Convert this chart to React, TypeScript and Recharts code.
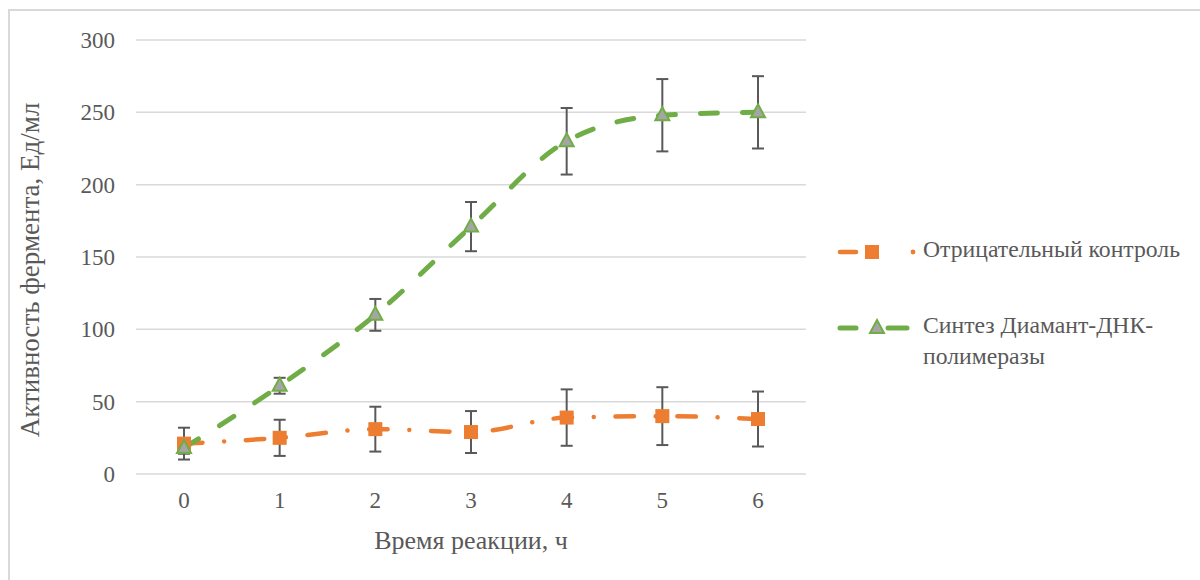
import { LineChart, Line, XAxis, YAxis, CartesianGrid, Legend, ErrorBar } from 'recharts';

const hours = [0, 1, 2, 3, 4, 5, 6];
const control = [21, 25, 31, 29, 39, 40, 38];
const controlErr = [11, 12.5, 15.5, 14.5, 19.5, 20, 19];
const synthesis = [18, 61, 110, 171, 230, 248, 250];
const synthesisErr = [4, 5.5, 11, 17, 23, 25, 25];
const yTicks = [0, 50, 100, 150, 200, 250, 300];

const controlName = 'Отрицательный контроль';
const synthesisName = 'Синтез Диамант-ДНК-полимеразы';

const ORANGE = '#ED7D31';
const GREEN = '#70AD47';
const TEXT = '#595959';
const FONT = '"Liberation Serif", "Times New Roman", serif';

const data = hours.map((h, i) => ({
  h,
  control: control[i],
  controlErr: controlErr[i],
  synthesis: synthesis[i],
  synthesisErr: synthesisErr[i],
}));

const SquareDot = (props: any) => {
  const { cx, cy } = props;
  if (cx == null || cy == null) return null;
  return <rect x={cx - 7} y={cy - 7} width={14} height={14} fill={ORANGE} />;
};

const TriangleDot = (props: any) => {
  const { cx, cy } = props;
  if (cx == null || cy == null) return null;
  const p = `${cx},${cy - 8} ${cx + 7},${cy + 5} ${cx - 7},${cy + 5}`;
  return <polygon points={p} fill="#A5A5A5" stroke={GREEN} strokeWidth={2} />;
};

const LegendIcon = ({ kind }: { kind: string }) => {
  if (kind === 'control') {
    return (
      <svg width={87} height={20}>
        <line x1={4} y1={10} x2={20} y2={10} stroke={ORANGE} strokeWidth={4.5} strokeLinecap="round" />
        <rect x={29} y={3} width={14} height={14} fill={ORANGE} />
        <circle cx={77} cy={10} r={2.4} fill={ORANGE} />
      </svg>
    );
  }
  return (
    <svg width={87} height={20}>
      <line x1={4} y1={10} x2={20} y2={10} stroke={GREEN} strokeWidth={5} strokeLinecap="round" />
      <line x1={52} y1={10} x2={71} y2={10} stroke={GREEN} strokeWidth={5} strokeLinecap="round" />
      <polygon points="41,2 48,15 34,15" fill="#A5A5A5" stroke={GREEN} strokeWidth={2} />
    </svg>
  );
};

const renderLegend = (props: any) => {
  const { payload } = props;
  return (
    <div style={{ fontFamily: FONT, fontSize: 23.7, color: TEXT }}>
      {(payload || []).map((entry: any) => (
        <div
          key={entry.dataKey}
          style={{ display: 'flex', alignItems: 'flex-start', marginBottom: 40, lineHeight: '31px' }}
        >
          <div style={{ paddingTop: 5 }}>
            <LegendIcon kind={entry.dataKey} />
          </div>
          <div style={{ width: 272 }}>{entry.value}</div>
        </div>
      ))}
    </div>
  );
};

const YLabel = (props: any) => {
  const { viewBox } = props;
  const x = viewBox.x + 30;
  const y = viewBox.y + viewBox.height / 2 + 13;
  return (
    <text
      x={x}
      y={y}
      transform={`rotate(-90, ${x}, ${y})`}
      textAnchor="middle"
      dominantBaseline="central"
      fill={TEXT}
      fontSize={27}
      fontFamily={FONT}
    >
      Активность фермента, Ед/мл
    </text>
  );
};

export default function App() {
  return (
    <div style={{ position: 'absolute', left: 0, top: 0, width: 1200, height: 580, background: '#fff', fontFamily: FONT }}>
      <div
        style={{
          position: 'absolute',
          left: 8,
          top: 9,
          width: 1200,
          height: 600,
          borderLeft: '2px solid #D9D9D9',
          borderTop: '2px solid #D9D9D9',
        }}
      />
      <div style={{ position: 'absolute', left: 0, top: 0 }}>
        <LineChart
          width={1200}
          height={580}
          data={data}
          margin={{ top: 40, right: 394, bottom: 0, left: 0 }}
        >
          <CartesianGrid vertical={false} stroke="#D9D9D9" strokeWidth={1.5} />
          <XAxis
            dataKey="h"
            type="category"
            height={106}
            padding={{ left: 48, right: 48 }}
            axisLine={false}
            tickLine={false}
            tickSize={0}
            tickMargin={18}
            tick={{ fill: TEXT, fontSize: 23, fontFamily: FONT }}
            label={{
              value: 'Время реакции, ч',
              position: 'insideBottom',
              offset: 31,
              fill: TEXT,
              fontSize: 26,
              fontFamily: FONT,
            }}
          />
          <YAxis
            width={136}
            domain={[0, 300]}
            ticks={yTicks}
            axisLine={false}
            tickLine={false}
            tickSize={0}
            tickMargin={21}
            tick={{ fill: TEXT, fontSize: 23, fontFamily: FONT }}
            label={<YLabel />}
          />
          <Legend
            layout="horizontal"
            verticalAlign="middle"
            align="center"
            content={renderLegend}
            wrapperStyle={{ position: 'absolute', left: 836, top: 234, width: 364 }}
          />
          <Line
            dataKey="control"
            name={controlName}
            type="monotone"
            stroke={ORANGE}
            strokeWidth={4.5}
            strokeLinecap="round"
            strokeDasharray="18.5 21.7 0.01 21.7"
            dot={<SquareDot />}
            activeDot={false}
            isAnimationActive={false}
          >
            <ErrorBar dataKey="controlErr" width={6} stroke={TEXT} strokeWidth={2} isAnimationActive={false} />
          </Line>
          <Line
            dataKey="synthesis"
            name={synthesisName}
            type="monotone"
            stroke={GREEN}
            strokeWidth={5}
            strokeLinecap="round"
            strokeDasharray="17 25"
            dot={<TriangleDot />}
            activeDot={false}
            isAnimationActive={false}
          >
            <ErrorBar dataKey="synthesisErr" width={6} stroke={TEXT} strokeWidth={2} isAnimationActive={false} />
          </Line>
        </LineChart>
      </div>
    </div>
  );
}
